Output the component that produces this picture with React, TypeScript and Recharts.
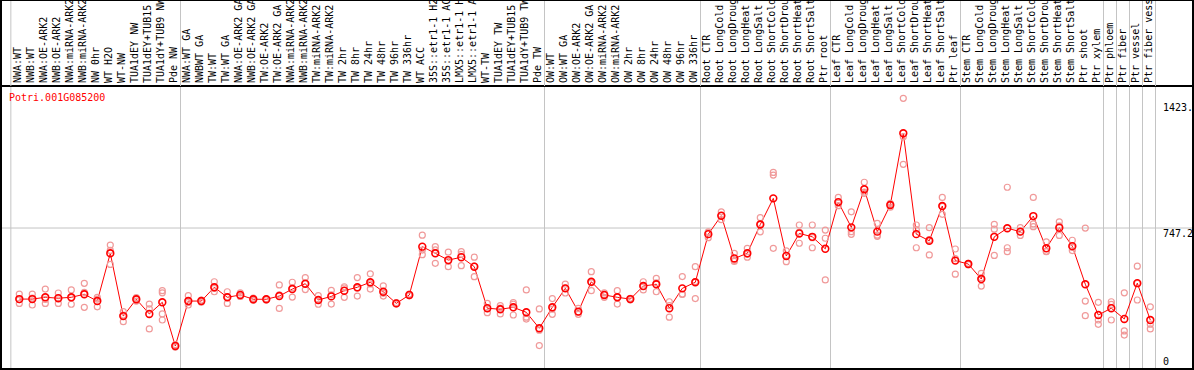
import { ComposedChart, Line, ReferenceLine, Scatter, XAxis, YAxis } from 'recharts';

const GENE_ID = 'Potri.001G085200';

const CATEGORIES = [
  'NWA:WT', 'NWB:WT', 'NWA:OE-ARK2', 'NWB:OE-ARK2', 'NWA:miRNA-ARK2', 'NWB:miRNA-ARK2', 'NW 0hr',
  'WT H2O', 'WT-NW', 'TUA1dEY NW', 'TUA1dEY+TUB15 NW', 'TUA1dY+TUB9 NW', 'Pde NW',
  'NWA:WT GA', 'NWBWT GA', 'TW:WT', 'TW:WT GA', 'NWA:OE-ARK2 GA', 'NWB:OE-ARK2 GA', 'TW:OE-ARK2',
  'TW:OE-ARK2 GA', 'NWA:miRNA-ARK2 GA', 'NWB:miRNA-ARK2 GA', 'TW:miRNA-ARK2', 'TW:miRNA-ARK2 GA',
  'TW 2hr', 'TW 8hr', 'TW 24hr', 'TW 48hr', 'TW 96hr', 'TW 336hr', 'WT ACC', '35S::etr1-1 H2O',
  '35S::etr1-1 ACC', 'LMX5::etr1-1 H2O', 'LMX5::etr1-1 ACC', 'WT-TW', 'TUA1dEY TW', 'TUA1dEY+TUB15 TW',
  'TUA1dY+TUB9 TW', 'Pde TW',
  'OW:WT', 'OW:WT GA', 'OW:OE-ARK2', 'OW:OE-ARK2 GA', 'OW:miRNA-ARK2', 'OW:miRNA-ARK2 GA', 'OW 2hr',
  'OW 8hr', 'OW 24hr', 'OW 48hr', 'OW 96hr', 'OW 336hr',
  'Root CTR', 'Root LongCold', 'Root LongDrought', 'Root LongHeat', 'Root LongSalt', 'Root ShortCold',
  'Root ShortDrought', 'Root ShortHeat', 'Root ShortSalt', 'Ptr root',
  'Leaf CTR', 'Leaf LongCold', 'Leaf LongDrought', 'Leaf LongHeat', 'Leaf LongSalt', 'Leaf ShortCold',
  'Leaf ShortDrought', 'Leaf ShortHeat', 'Leaf ShortSalt', 'Ptr leaf',
  'Stem CTR', 'Stem LongCold', 'Stem LongDrought', 'Stem LongHeat', 'Stem LongSalt', 'Stem ShortCold',
  'Stem ShortDrought', 'Stem ShortHeat', 'Stem ShortSalt', 'Ptr shoot',
  'Ptr xylem', 'Ptr phloem', 'Ptr fiber', 'Ptr vessel', 'Ptr fiber vessel',
];

const MEANS = [
  350, 350, 360, 355, 360, 377, 339, 606, 255, 349, 267, 332, 88,
  339, 339, 416, 360, 373, 349, 349, 367, 406, 436, 345, 365, 397, 416, 444, 391, 326, 373,
  643, 606, 568, 584, 531, 299, 293, 304, 276, 187,
  304, 410, 280, 447, 373, 360, 350, 423, 433, 299, 410, 444,
  713, 816, 577, 606, 767, 913, 591, 717, 698, 631,
  892, 751, 964, 727, 876, 1277, 713, 676, 870, 565,
  546, 462, 698, 746, 727, 814, 634, 749, 646, 433,
  261, 299, 239, 439, 233,
];

const REPLICATES: number[][] = [
  [378, 326, 347], [378, 317, 355], [406, 326, 348], [384, 326, 355], [401, 321, 358],
  [438, 304, 388], [360, 307, 350], [652, 544, 622], [280, 224, 261], [358, 339, 350],
  [322, 183, 295], [397, 385, 267, 233], [95, 82, 88],
  [369, 317, 331], [345, 333, 339], [447, 391, 410], [391, 326, 363], [385, 365, 369],
  [355, 343, 349], [352, 346, 349], [429, 298, 374], [444, 361, 413], [470, 403, 435],
  [369, 321, 345], [399, 322, 374], [419, 360, 412], [470, 367, 411], [491, 406, 435],
  [424, 367, 382], [330, 322, 326], [378, 368, 373], [707, 598, 624], [643, 550, 625],
  [612, 531, 561], [615, 537, 600], [584, 475, 534], [326, 274, 297], [313, 267, 299],
  [330, 261, 321], [401, 249, 238], [295, 90, 176],
  [353, 265, 294], [434, 384, 412], [298, 265, 277], [503, 397, 441], [385, 360, 374],
  [397, 322, 361], [354, 346, 350], [447, 401, 421], [466, 391, 441], [335, 249, 313],
  [476, 376, 378], [531, 353, 448],
  [726, 693, 720], [838, 816, 794], [606, 560, 565], [634, 584, 600], [805, 726, 770],
  [1058, 1043, 634], [620, 559, 594], [764, 662, 725], [764, 637, 693], [736, 690, 457],
  [918, 872, 886], [838, 727, 712], [1003, 941, 948], [773, 701, 707], [885, 864, 879],
  [1472, 1103, 1258], [764, 637, 738], [749, 597, 682], [918, 824, 868], [630, 489, 576],
  [550, 542, 546], [494, 423, 469], [768, 741, 594], [975, 637, 615], [749, 706, 726],
  [918, 755, 770], [670, 615, 617], [782, 706, 759], [679, 621, 639], [747, 339, 257],
  [332, 233, 209], [335, 320, 233], [385, 172, 149], [534, 345, 437], [307, 183, 210],
];

const Y_TICKS = [0, 747.2, 1423];
const Y_TICK_LABELS = ['0', '747.2', '1423.'];

// separators between sample groups, in category units
const GROUP_BREAKS = [-0.65, 12.4, 40.4, 52.4, 62.4, 72.4, 83.4, 84.4, 85.4, 86.4, 87.4];

const W = 1194;
const H = 370;
const LABEL_H = 86;
const STEP = 13;
const FIRST_X = 19.3;
const PLOT_LEFT = 2;
const PLOT_RIGHT = 1192;
const PLOT_BOTTOM = 368;
const ZERO_Y = 361.7;
const PX_PER_UNIT = 0.1789;

const X_DOMAIN = [-(FIRST_X - PLOT_LEFT) / STEP, (PLOT_RIGHT - FIRST_X) / STEP];
const Y_DOMAIN = [-(PLOT_BOTTOM - ZERO_Y) / PX_PER_UNIT, (ZERO_Y - LABEL_H) / PX_PER_UNIT];

const MONO = '"DejaVu Sans Mono", "Liberation Mono", monospace';
const RED = '#ff0000';
const PINK = '#f09a9a';
const GRID = '#c4c4c4';

const meanRows = MEANS.map((v, i) => ({ x: i, mean: v }));
const repRows = REPLICATES.flatMap((reps, i) => reps.map((v) => ({ x: i, y: v })));

function CategoryTick(props: any) {
  const { x, payload } = props;
  const i = payload.value as number;
  const tx = x + 1.5;
  return (
    <g>
      {i === 0 &&
        GROUP_BREAKS.map((b) => (
          <line key={b} x1={x + b * STEP} x2={x + b * STEP} y1={0} y2={LABEL_H} stroke={GRID} strokeWidth={1} />
        ))}
      <text
        x={tx}
        y={83}
        transform={`rotate(-90 ${tx} 83)`}
        textAnchor="start"
        fontFamily={MONO}
        fontSize={10}
        fill="#000"
      >
        {CATEGORIES[i]}
      </text>
    </g>
  );
}

function YLabel(props: any) {
  const { viewBox, text, below } = props;
  return (
    <text
      x={viewBox.x + viewBox.width - 29}
      y={viewBox.y + (below ? 8.5 : 3.7)}
      fontFamily={MONO}
      fontSize={10}
      fill="#000"
    >
      {text}
    </text>
  );
}

const RepDot = (p: any) => <circle cx={p.cx} cy={p.cy} r={3} fill="none" stroke={PINK} strokeWidth={1.2} />;

export default function App() {
  return (
    <div style={{ position: 'absolute', left: 0, top: 0, width: W, height: H, background: '#fff' }}>
      <ComposedChart width={W} height={H} data={meanRows} margin={{ top: 0, right: W - PLOT_RIGHT, bottom: H - PLOT_BOTTOM, left: PLOT_LEFT }}>
        <XAxis
          dataKey="x"
          type="number"
          orientation="top"
          height={LABEL_H}
          domain={X_DOMAIN}
          allowDataOverflow
          ticks={CATEGORIES.map((_, i) => i)}
          interval={0}
          tick={(p: any) => <CategoryTick {...p} />}
          tickLine={false}
          axisLine={{ stroke: '#000', strokeWidth: 2 }}
        />
        <YAxis hide type="number" domain={Y_DOMAIN} allowDataOverflow />
        {GROUP_BREAKS.map((b) => (
          <ReferenceLine key={b} x={b} stroke={GRID} strokeWidth={1} />
        ))}
        {Y_TICKS.map((t, k) => (
          <ReferenceLine
            key={t}
            y={t}
            stroke={t === 747.2 ? GRID : 'none'}
            strokeWidth={1}
            label={<YLabel text={Y_TICK_LABELS[k]} below={t === 747.2} />}
          />
        ))}
        <Scatter data={repRows} dataKey="y" shape={RepDot} isAnimationActive={false} />
        <Line
          dataKey="mean"
          type="linear"
          stroke={RED}
          strokeWidth={1}
          dot={(p: any) => <circle key={p.index} cx={p.cx} cy={p.cy} r={3.4} fill="none" stroke={RED} strokeWidth={1.6} />}
          isAnimationActive={false}
        />
      </ComposedChart>
      <div
        style={{
          position: 'absolute',
          left: 9,
          top: 91.5,
          fontFamily: MONO,
          fontSize: 10,
          lineHeight: '12px',
          color: RED,
        }}
      >
        {GENE_ID}
      </div>
      <div
        style={{
          position: 'absolute',
          inset: 0,
          boxSizing: 'border-box',
          borderStyle: 'solid',
          borderColor: '#000',
          borderWidth: '1px 2px 2px 2px',
          pointerEvents: 'none',
        }}
      />
    </div>
  );
}
